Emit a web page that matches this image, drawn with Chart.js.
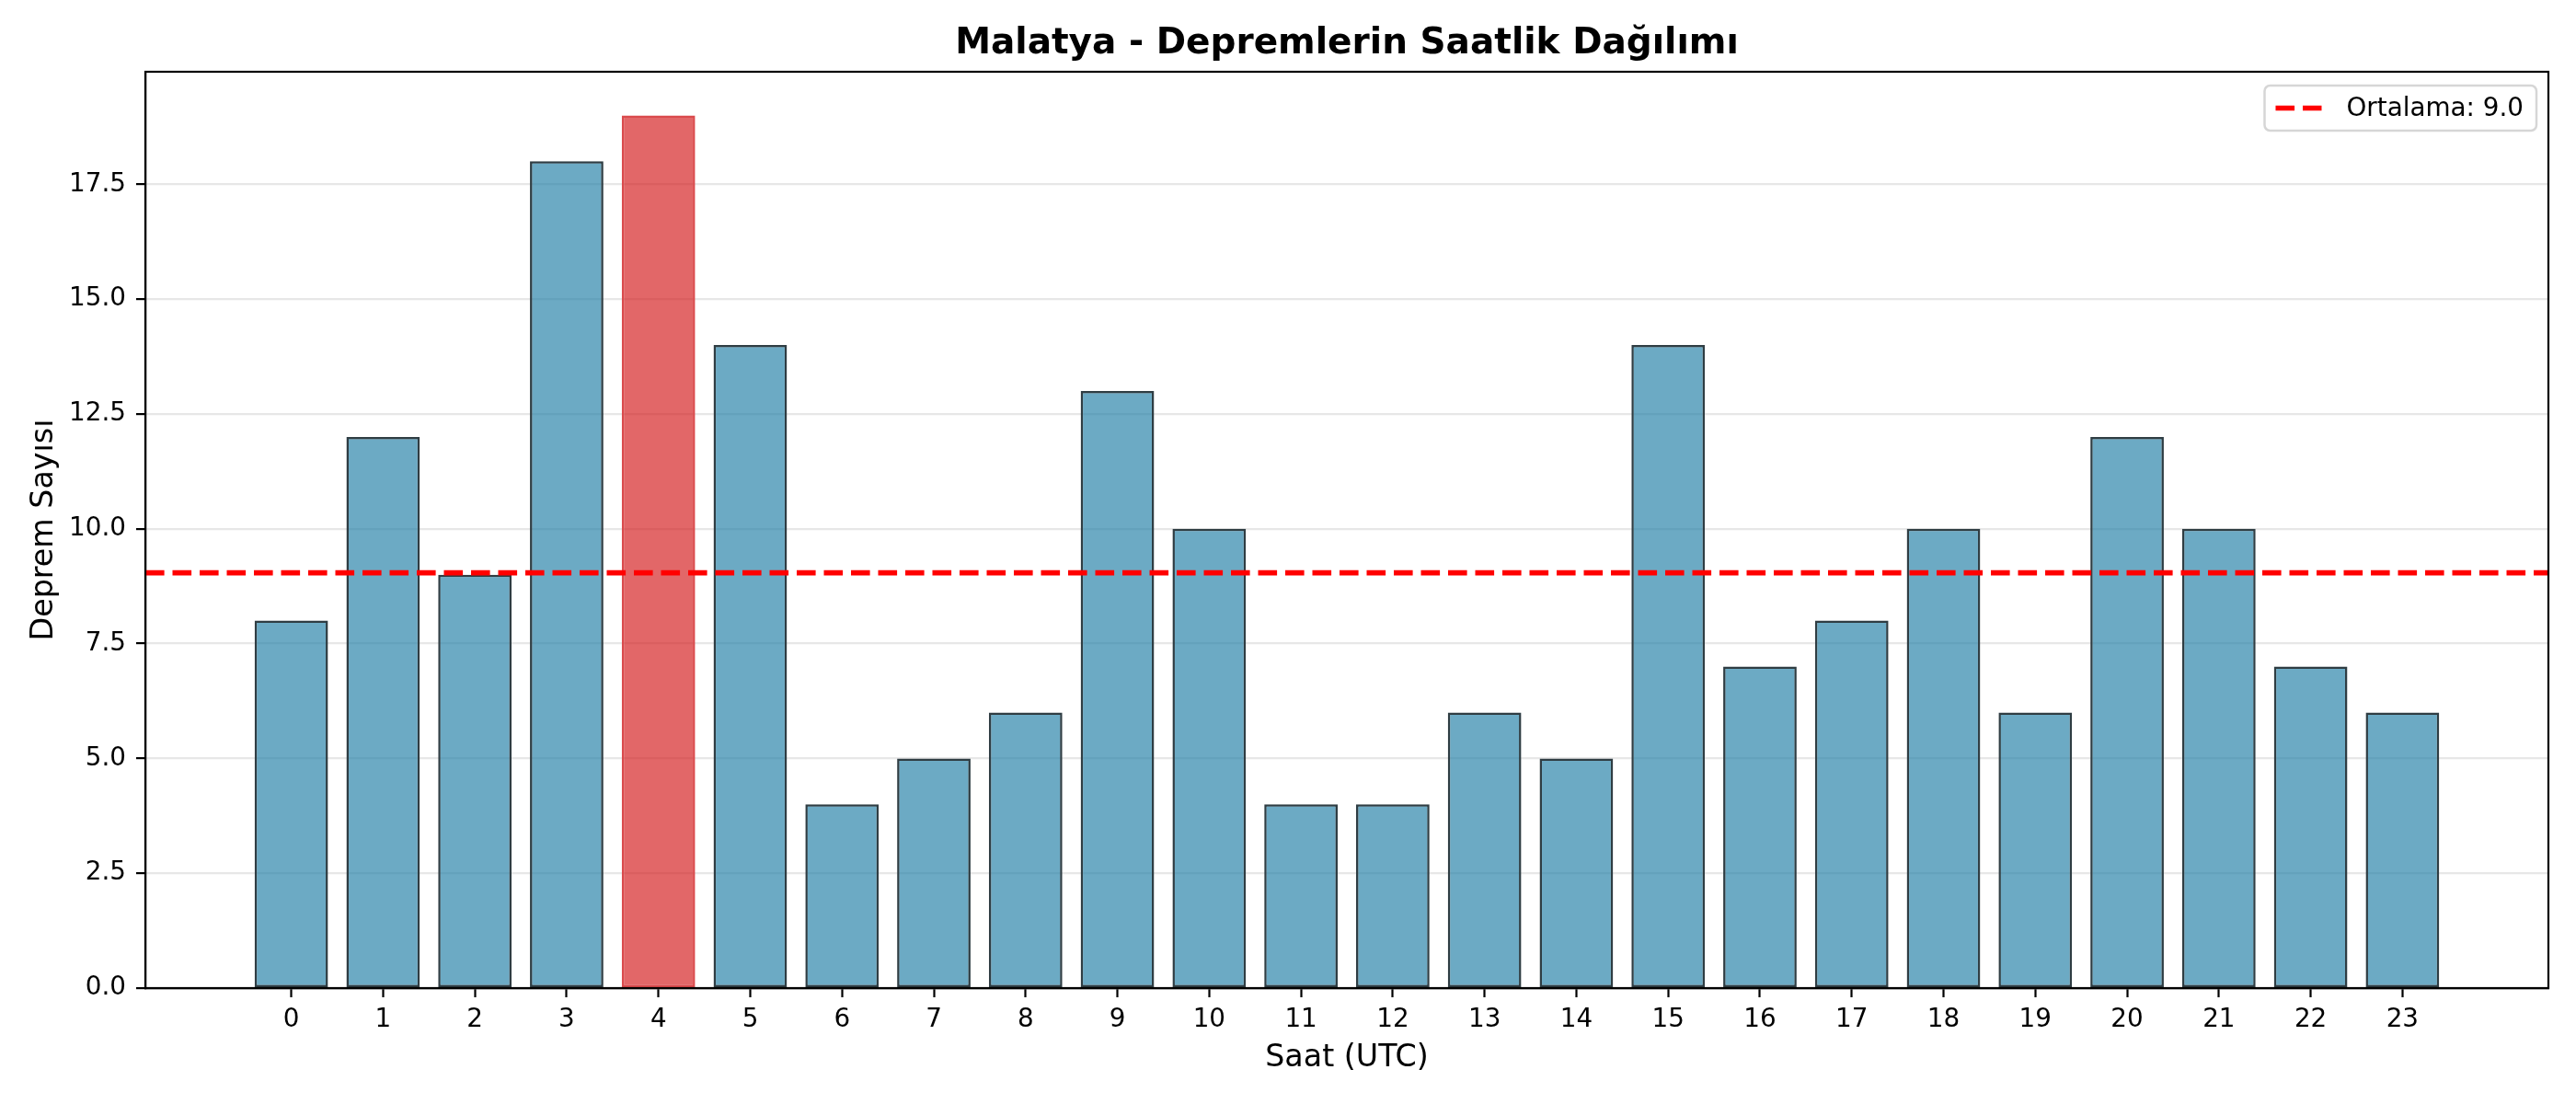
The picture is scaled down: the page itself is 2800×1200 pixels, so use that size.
<!DOCTYPE html>
<html>
<head>
<meta charset="utf-8">
<script src="https://cdn.jsdelivr.net/npm/chart.js@4.4.0/dist/chart.umd.min.js"></script>
<style>
  html, body { margin: 0; padding: 0; background: #fff; }
  #wrap { width: 2800px; height: 1200px; }
</style>
</head>
<body>
<div id="wrap"><canvas id="mainChart" width="2800" height="1200"></canvas></div>
<script>
"use strict";

// hourly earthquake counts (UTC hour -> count)
const hours = [0, 1, 2, 3, 4, 5, 6, 7, 8, 9, 10, 11, 12, 13, 14, 15, 16, 17, 18, 19, 20, 21, 22, 23];
const counts = [8, 12, 9, 18, 19, 14, 4, 5, 6, 13, 10, 4, 4, 6, 5, 14, 7, 8, 10, 6, 12, 10, 7, 6];
const yTickValues = [0, 2.5, 5, 7.5, 10, 12.5, 15, 17.5];

const titleText = "Malatya - Depremlerin Saatlik Dağılımı";
const xTitle = "Saat (UTC)";
const yTitle = "Deprem Sayısı";

const xMin = -1.59;
const xMax = 24.59;
const yMax = 19.95;

var mean = counts.reduce(function (a, b) { return a + b; }, 0) / counts.length;
var maxCount = Math.max.apply(null, counts);

var barColors = counts.map(function (c) { return c === maxCount ? "rgba(214,39,40,0.7)" : "rgba(46,134,171,0.7)"; });
var barEdges = counts.map(function (c) { return c === maxCount ? "#da4a4c" : "#2f3d43"; });

Chart.defaults.font.family = "'DejaVu Sans', sans-serif";
Chart.defaults.color = "#000";

// top/right spines
var frame = {
    id: "frame",
    afterDraw: function (chart) {
        var a = chart.chartArea, ctx = chart.ctx;
        ctx.save();
        ctx.strokeStyle = "#000";
        ctx.lineWidth = 2.2;
        ctx.strokeRect(a.left, a.top, a.right - a.left, a.bottom - a.top);
        ctx.restore();
    }
};

// legend box in the upper right corner of the axes
var boxLegend = {
    id: "boxLegend",
    afterDraw: function (chart) {
        var ds = chart.data.datasets[0];
        var a = chart.chartArea, ctx = chart.ctx;
        ctx.save();
        ctx.font = "27.8px 'DejaVu Sans'";
        var tw = ctx.measureText(ds.label).width;
        var w = 12 + 50 + 27 + tw + 14;
        var h = 49;
        var right = a.right - 13;
        var left = right - w;
        var top = a.top + 15;
        ctx.beginPath();
        ctx.roundRect(left, top, w, h, 6);
        ctx.fillStyle = "rgba(255,255,255,0.8)";
        ctx.fill();
        ctx.strokeStyle = "#d6d6d6";
        ctx.lineWidth = 2.5;
        ctx.stroke();
        ctx.beginPath();
        ctx.setLineDash(ds.borderDash);
        ctx.strokeStyle = ds.borderColor;
        ctx.lineWidth = ds.borderWidth;
        ctx.moveTo(left + 12, top + h / 2);
        ctx.lineTo(left + 62, top + h / 2);
        ctx.stroke();
        ctx.setLineDash([]);
        ctx.fillStyle = "#000";
        ctx.textBaseline = "middle";
        ctx.textAlign = "left";
        ctx.fillText(ds.label, left + 89, top + h / 2 + 1);
        ctx.restore();
    }
};

var chart = new Chart(document.getElementById("mainChart"), {
    data: {
        datasets: [{
            type: "line",
            label: "Ortalama: " + mean.toFixed(1),
            data: [{ x: xMin, y: mean }, { x: xMax, y: mean }],
            borderColor: "#ff0000",
            borderWidth: 5.6,
            borderDash: [20.6, 8.9],
            pointRadius: 0,
            order: 0
        }, {
            type: "bar",
            label: "Deprem",
            data: hours.map(function (h, i) { return { x: h, y: counts[i] }; }),
            backgroundColor: barColors,
            borderColor: barEdges,
            borderWidth: 2.5,
            borderSkipped: false,
            barPercentage: 0.8,
            categoryPercentage: 1.0,
            order: 1
        }]
    },
    options: {
        responsive: false,
        animation: false,
        devicePixelRatio: 1,
        layout: { padding: { left: 0, right: 30, top: 0, bottom: 0 } },
        plugins: {
            legend: { display: false },
            tooltip: { enabled: false },
            title: {
                display: true,
                text: titleText,
                fullSize: false,
                color: "#000",
                font: { size: 39, weight: "bold" },
                padding: { top: 24, bottom: 7.2 }
            }
        },
        scales: {
            x: {
                type: "linear",
                min: xMin,
                max: xMax,
                offset: false,
                afterBuildTicks: function (scale) {
                    scale.ticks = hours.map(function (h) { return { value: h }; });
                },
                afterFit: function (scale) { scale.height = 126; },
                ticks: {
                    font: { size: 27.8 },
                    color: "#000",
                    padding: 8,
                    maxRotation: 0,
                    autoSkip: false,
                    callback: function (v) { return String(v); }
                },
                grid: {
                    offset: false,
                    drawOnChartArea: false,
                    drawTicks: true,
                    tickLength: 10,
                    tickWidth: 2.2,
                    tickColor: "#000"
                },
                border: { display: true, color: "#000", width: 2.2 },
                title: {
                    display: true,
                    text: xTitle,
                    color: "#000",
                    font: { size: 33.3 },
                    padding: { top: 0, bottom: 30 }
                }
            },
            y: {
                type: "linear",
                min: 0,
                max: yMax,
                z: 1,
                afterBuildTicks: function (scale) {
                    scale.ticks = yTickValues.map(function (v) { return { value: v }; });
                },
                afterFit: function (scale) { scale.width = 158; },
                ticks: {
                    font: { size: 27.8 },
                    color: "#000",
                    padding: 11,
                    callback: function (v) { return Number(v).toFixed(1); }
                },
                grid: {
                    color: "rgba(176,176,176,0.3)",
                    lineWidth: 2.2,
                    drawTicks: true,
                    tickLength: 10,
                    tickWidth: 2.2,
                    tickColor: "#000"
                },
                border: { display: true, color: "#000", width: 2.2 },
                title: {
                    display: true,
                    text: yTitle,
                    color: "#000",
                    font: { size: 33.3 },
                    padding: { top: 28, bottom: 0 }
                }
            }
        }
    },
    plugins: [frame, boxLegend]
});
</script>
</body>
</html>
